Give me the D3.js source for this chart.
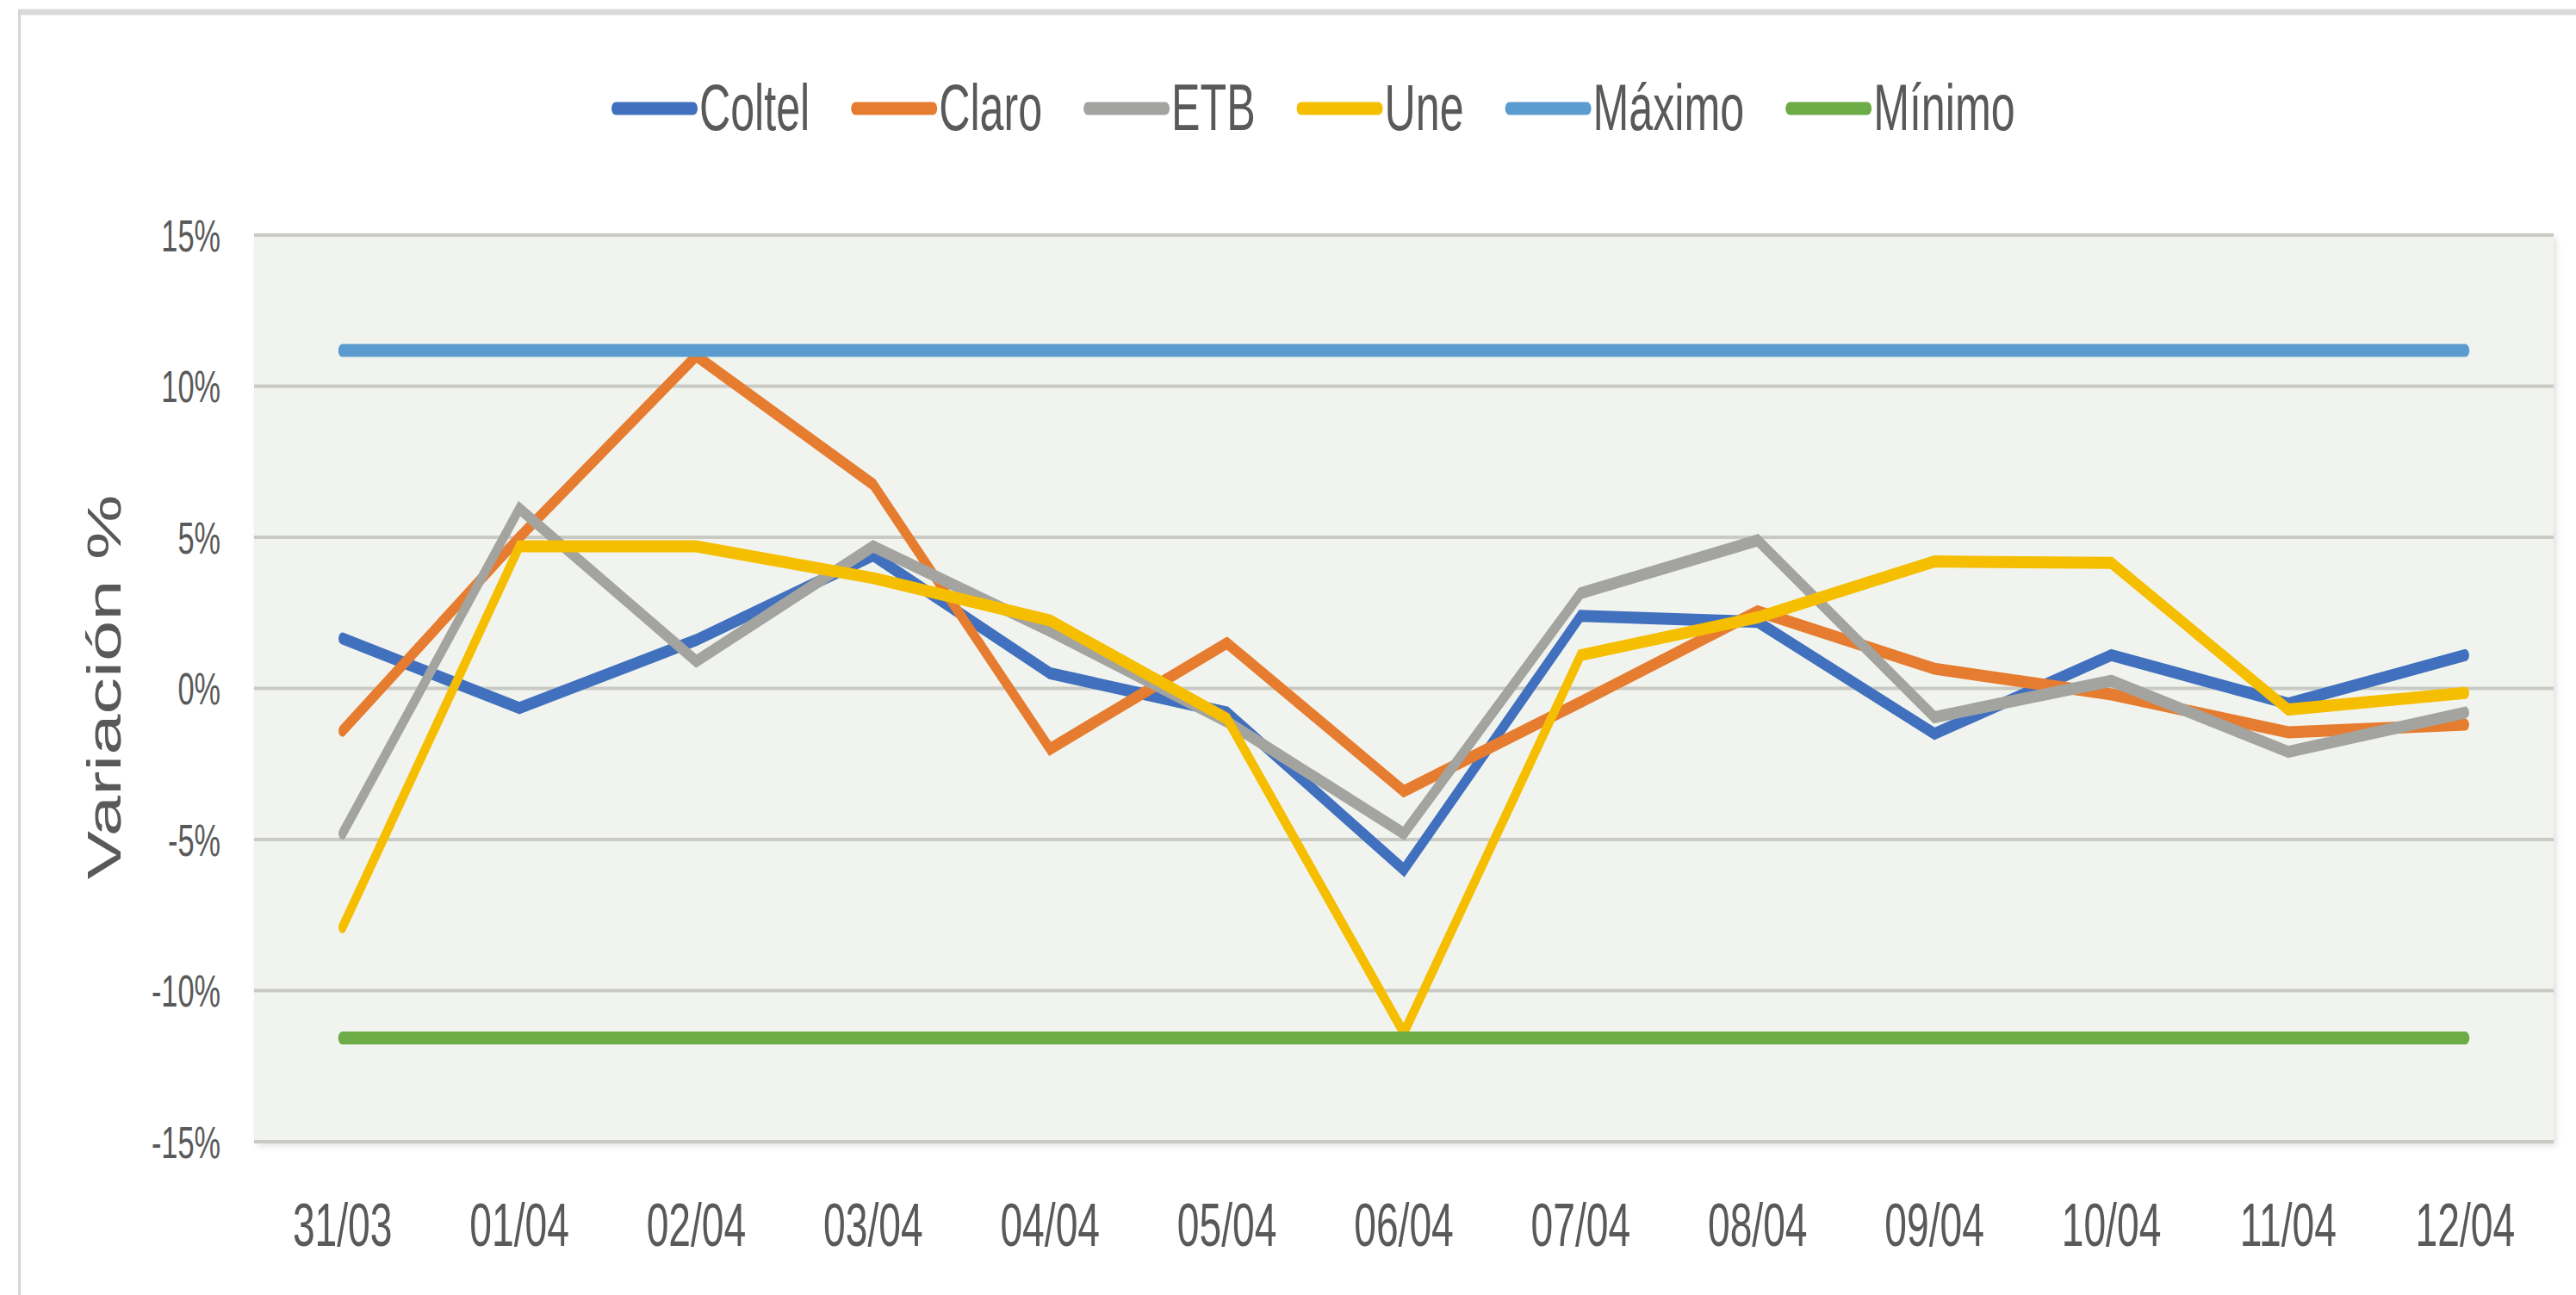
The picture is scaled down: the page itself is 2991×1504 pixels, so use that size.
<!DOCTYPE html>
<html>
<head>
<meta charset="utf-8">
<script src="https://cdn.jsdelivr.net/npm/d3@7.9.0/dist/d3.min.js"></script>
<style>
  html, body { margin: 0; padding: 0; background: #ffffff; }
  svg { display: block; }
  text { font-family: "Liberation Sans", Arial, sans-serif; fill: #595959; }
</style>
</head>
<body>
<svg id="chart"></svg>
<script>
// Categories (dates) and series values, in percent
let dates = ['31/03', '01/04', '02/04', '03/04', '04/04', '05/04', '06/04',
             '07/04', '08/04', '09/04', '10/04', '11/04', '12/04'];
let coltel = [1.65, -0.65, 1.6, 4.4, 0.5, -0.8, -6.0, 2.4, 2.2, -1.5, 1.1, -0.5, 1.1];
let claro  = [-1.4, 5.0, 11.0, 6.75, -2.0, 1.5, -3.4, -0.45, 2.55, 0.65, -0.2, -1.45, -1.2];
let etb    = [-4.8, 5.95, 0.9, 4.7, 1.9, -1.1, -4.8, 3.15, 4.9, -0.95, 0.25, -2.1, -0.8];
let une    = [-7.9, 4.7, 4.7, 3.65, 2.25, -1.0, -11.4, 1.1, 2.35, 4.2, 4.15, -0.7, -0.15];
let maximo = [11.18, 11.18, 11.18, 11.18, 11.18, 11.18, 11.18, 11.18, 11.18, 11.18, 11.18, 11.18, 11.18];
let minimo = [-11.57, -11.57, -11.57, -11.57, -11.57, -11.57, -11.57, -11.57, -11.57, -11.57, -11.57, -11.57, -11.57];
let yTicks = [-15, -10, -5, 0, 5, 10, 15];

let seriesNames = ['Coltel', 'Claro', 'ETB', 'Une', 'Máximo', 'Mínimo'];
let seriesValues = [coltel, claro, etb, une, maximo, minimo];
let seriesColors = ['#4170be', '#e67c30', '#a3a4a0', '#f5be00', '#5a9bd0', '#6cab45'];

// The picture is squeezed horizontally, so draw in a wider space and let the viewBox squeeze it
const SX = 0.66;
const W = 2991, H = 1504;
const VW = W / SX;
const fx = (x) => x / SX; // page pixels -> drawing units

let svg = d3.select('#chart')
  .attr('width', W)
  .attr('height', H)
  .attr('viewBox', `0 0 ${VW} ${H}`)
  .attr('preserveAspectRatio', 'none');

// Plot area edges
let plotLeft = fx(295), plotRight = fx(2965), plotTop = 273, plotBottom = 1326;

let x = d3.scalePoint().domain(dates).range([plotLeft, plotRight]).padding(0.5);
let y = d3.scaleLinear().domain([-15, 15]).range([plotBottom, plotTop]);

// Chart frame (top and left edges only are visible)
svg.append('line')
  .attr('x1', fx(22)).attr('x2', VW)
  .attr('y1', 14).attr('y2', 14)
  .attr('stroke', '#dadada').attr('stroke-width', 7);
svg.append('line')
  .attr('x1', fx(22.5)).attr('x2', fx(22.5))
  .attr('y1', 11).attr('y2', H)
  .attr('stroke', '#d6d6d6').attr('stroke-width', 3 / SX);

// Soft shadow for the plot area
let defs = svg.append('defs');
defs.append('filter').attr('id', 'shadow')
  .attr('x', '-5%').attr('y', '-5%').attr('width', '110%').attr('height', '110%')
  .append('feDropShadow')
  .attr('dx', 5).attr('dy', 4).attr('stdDeviation', 5)
  .attr('flood-color', '#000').attr('flood-opacity', 0.12);

svg.append('rect')
  .attr('x', plotLeft).attr('y', plotTop)
  .attr('width', plotRight - plotLeft).attr('height', plotBottom - plotTop)
  .attr('fill', '#f1f4ee')
  .attr('filter', 'url(#shadow)');

// Gridlines
svg.append('g')
  .selectAll('line')
  .data(yTicks)
  .join('line')
  .attr('x1', plotLeft).attr('x2', plotRight)
  .attr('y1', d => y(d)).attr('y2', d => y(d))
  .attr('stroke', '#c9cac4')
  .attr('stroke-width', 4);

// Y axis labels
svg.append('g')
  .selectAll('text')
  .data(yTicks)
  .join('text')
  .attr('x', fx(256))
  .attr('y', d => y(d) + 19)
  .attr('text-anchor', 'end')
  .attr('font-size', 52)
  .text(d => `${d}%`);

// X axis labels
svg.append('g')
  .selectAll('text')
  .data(dates)
  .join('text')
  .attr('x', d => x(d))
  .attr('y', 1447)
  .attr('text-anchor', 'middle')
  .attr('font-size', 70)
  .text(d => d);

// Y axis title
svg.append('text')
  .attr('transform', `translate(${fx(121)}, 798) rotate(-90)`)
  .attr('text-anchor', 'middle')
  .attr('dominant-baseline', 'central')
  .attr('font-size', 85)
  .attr('fill', '#4d4d4d')
  .text('Variación %');

// Series lines
let line = d3.line()
  .x((d, i) => x(dates[i]))
  .y(d => y(d));

seriesValues.forEach((values, idx) => {
  let isLimit = idx >= 4;
  svg.append('path')
    .datum(values)
    .attr('d', line)
    .attr('fill', 'none')
    .attr('stroke', seriesColors[idx])
    .attr('stroke-width', isLimit ? 15 : 14)
    .attr('stroke-linecap', 'round')
    .attr('stroke-linejoin', 'miter')
    .attr('stroke-miterlimit', 4);
});

// Legend
let legend = svg.append('g');
let lx = fx(710);
let ly = 126;
seriesNames.forEach((name, idx) => {
  legend.append('line')
    .attr('x1', lx + 7.5).attr('x2', lx + fx(100) - 7.5)
    .attr('y1', ly).attr('y2', ly)
    .attr('stroke', seriesColors[idx])
    .attr('stroke-width', 15)
    .attr('stroke-linecap', 'round');
  let label = legend.append('text')
    .attr('x', lx + fx(102))
    .attr('y', 151)
    .attr('font-size', 76)
    .text(name);
  lx = lx + fx(102) + label.node().getComputedTextLength() + fx(48);
});
</script>
</body>
</html>
